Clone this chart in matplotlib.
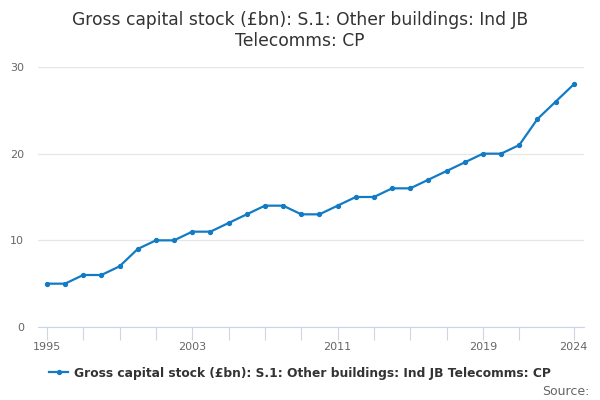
import matplotlib
matplotlib.use("Agg")
import matplotlib.pyplot as plt
from matplotlib.lines import Line2D

years = list(range(1995, 2025))
values = [5, 5, 6, 6, 7, 9, 10, 10, 11, 11, 12, 13, 14, 14, 13, 13, 14, 15, 15,
          16, 16, 17, 18, 19, 20, 20, 21, 24, 26, 28]
tick_years = list(range(1995, 2022, 2)) + [2024]
label_years = [1995, 2003, 2011, 2019, 2024]
yticks = [0, 10, 20, 30]

title = "Gross capital stock (£bn): S.1: Other buildings: Ind JB\nTelecomms: CP"
series_name = "Gross capital stock (£bn): S.1: Other buildings: Ind JB Telecomms: CP"

line_color = "#137bc4"

fig = plt.figure(figsize=(6, 4), dpi=100)
ax = fig.add_axes([0.063, 0.1825, 0.91, 0.65])

ax.plot(years, values, color=line_color, linewidth=1.6, marker="o", markersize=2.8)

ax.set_xlim(1994.5, 2024.55)
ax.set_ylim(0, 30)
ax.set_yticks(yticks)
ax.grid(axis="y", color="#e6e6e6", linewidth=0.9)
ax.set_axisbelow(True)

ax.set_xticks(tick_years)
ax.set_xticklabels([str(y) if y in label_years else "" for y in tick_years])
ax.tick_params(axis="x", length=9, color="#ccd6eb", labelsize=8, labelcolor="#666666", pad=2)
ax.tick_params(axis="y", length=0, labelsize=8, labelcolor="#666666", pad=10)

for side in ["top", "right", "left"]:
    ax.spines[side].set_visible(False)
ax.spines["bottom"].set_color("#ccd6eb")

fig.text(0.5, 0.924, title, ha="center", va="center", fontsize=12.3, color="#333333",
         linespacing=1.2)

handle = Line2D([0], [0], color=line_color, linewidth=1.6, marker="o", markersize=2.8)
fig.legend([handle], [series_name], loc="center", bbox_to_anchor=(0.5, 0.067),
           frameon=False, prop={"size": 8.8, "weight": "bold"}, handlelength=1.6,
           handletextpad=0.5, labelcolor="#333333")

fig.text(0.982, 0.022, "Source:", ha="right", va="center", fontsize=9, color="#666666")

fig.savefig("out.png", dpi=100)
